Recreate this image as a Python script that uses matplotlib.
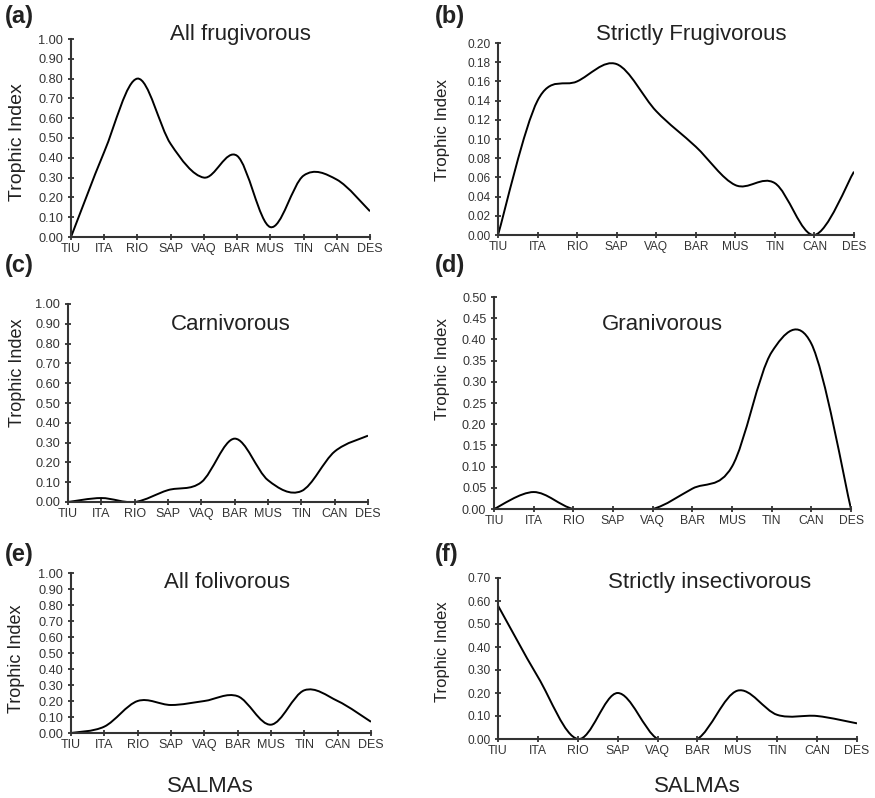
import matplotlib
matplotlib.use("Agg")
import matplotlib.pyplot as plt
from matplotlib.path import Path
from matplotlib.patches import PathPatch

plt.rcParams["font.family"] = ["Liberation Sans", "DejaVu Sans"]

salmas = ["TIU", "ITA", "RIO", "SAP", "VAQ", "BAR", "MUS", "TIN", "CAN", "DES"]

all_frugivorous = [0.00, 0.43, 0.80, 0.47, 0.30, 0.41, 0.05, 0.31, 0.29, 0.13]
strictly_frugivorous = [0.000, 0.140, 0.160, 0.178, 0.129, 0.092, 0.052, 0.054, 0.000, 0.066]
carnivorous = [0.00, 0.02, 0.00, 0.06, 0.10, 0.32, 0.11, 0.055, 0.255, 0.335]
granivorous = [0.00, 0.04, 0.00, 0.00, 0.00, 0.048, 0.10, 0.37, 0.39, 0.00]
all_folivorous = [0.00, 0.04, 0.20, 0.175, 0.20, 0.23, 0.052, 0.267, 0.20, 0.07]
strictly_insectivorous = [0.58, 0.27, 0.00, 0.20, 0.00, 0.00, 0.21, 0.105, 0.10, 0.068]

W, H = 875, 798
TXT = "#222222"


def smooth_path(xs, ys):
    # excel-style smoothed line: bezier segments through every point
    n = len(xs)
    verts = [(xs[0], ys[0])]
    codes = [Path.MOVETO]
    for i in range(n - 1):
        x0, y0 = xs[max(i - 1, 0)], ys[max(i - 1, 0)]
        x1, y1 = xs[i], ys[i]
        x2, y2 = xs[i + 1], ys[i + 1]
        x3, y3 = xs[min(i + 2, n - 1)], ys[min(i + 2, n - 1)]
        verts += [(x1 + (x2 - x0) / 6, y1 + (y2 - y0) / 6),
                  (x2 - (x3 - x1) / 6, y2 - (y3 - y1) / 6),
                  (x2, y2)]
        codes += [Path.CURVE4] * 3
    return Path(verts, codes)


def px_axes(fig, left, right, top, bottom):
    return fig.add_axes([left / W, 1 - bottom / H, (right - left) / W, (bottom - top) / H])


# (letter, title, values, ymax, ystep, axes box px, title pos px, ylabel centre px, sizes)
panels = [
    ("(a)", "All frugivorous", all_frugivorous, 1.0, 0.1,
     (71, 370, 39, 237), (240, 40), (18, 142), (9.2, 9.0, 14)),
    ("(b)", "Strictly Frugivorous", strictly_frugivorous, 0.2, 0.02,
     (498, 854, 43, 235), (691, 40), (442, 130), (8.6, 8.6, 12.2)),
    ("(c)", "Carnivorous", carnivorous, 1.0, 0.1,
     (68, 368, 304, 502), (231, 330), (18, 373), (9.2, 9.0, 13)),
    ("(d)", "Granivorous", granivorous, 0.5, 0.05,
     (494, 851, 297, 509), (662, 330), (442, 369), (9.0, 8.7, 12.2)),
    ("(e)", "All folivorous", all_folivorous, 1.0, 0.1,
     (71, 371, 573, 733), (227, 588), (17, 659), (9.2, 9.0, 13)),
    ("(f)", "Strictly insectivorous", strictly_insectivorous, 0.7, 0.1,
     (498, 857, 578, 739), (710, 588), (442, 652), (8.6, 8.8, 12)),
]
letter_pos = [(5, 5), (435, 5), (5, 254), (435, 254), (5, 543), (435, 543)]

fig = plt.figure(figsize=(W / 100, H / 100), dpi=100)

for (letter, title, vals, ymax, ystep, box, tpos, lpx, sizes), lpos in zip(panels, letter_pos):
    ysize, xsize, labsize = sizes
    ax = px_axes(fig, *box)
    xs = list(range(len(salmas)))
    ax.add_patch(PathPatch(smooth_path(xs, vals), fill=False, lw=1.4,
                           edgecolor="black", transform=ax.transData))
    ax.set_xlim(0, len(salmas) - 1)
    ax.set_ylim(0, ymax)
    nt = int(round(ymax / ystep))
    yt = [i * ystep for i in range(nt + 1)]
    ax.set_yticks(yt)
    ax.set_yticklabels([f"{v:.2f}" for v in yt])
    ax.set_xticks(xs)
    ax.set_xticklabels(salmas)
    for s in ["top", "right"]:
        ax.spines[s].set_visible(False)
    for s in ["left", "bottom"]:
        ax.spines[s].set_linewidth(1.5)
        ax.spines[s].set_color("#333333")
    ax.tick_params(axis="both", direction="inout", length=5, width=1.3,
                   color="#333333", labelcolor="#333333")
    ax.tick_params(axis="x", pad=1.5, labelsize=xsize)
    ax.tick_params(axis="y", pad=3, labelsize=ysize)
    fig.text(lpx[0] / W, 1 - lpx[1] / H, "Trophic Index", fontsize=labsize, color=TXT,
             rotation=90, ha="center", va="center")
    fig.text(tpos[0] / W, 1 - tpos[1] / H, title, fontsize=16, color=TXT,
             ha="center", va="baseline")
    fig.text(lpos[0] / W, 1 - lpos[1] / H, letter, fontsize=17, fontweight="bold",
             color=TXT, ha="left", va="top")

fig.text(210 / W, 1 - 786 / H, "SALMAs", fontsize=16, color=TXT, ha="center", va="center")
fig.text(697 / W, 1 - 786 / H, "SALMAs", fontsize=16, color=TXT, ha="center", va="center")

fig.savefig("out.png", dpi=100)
